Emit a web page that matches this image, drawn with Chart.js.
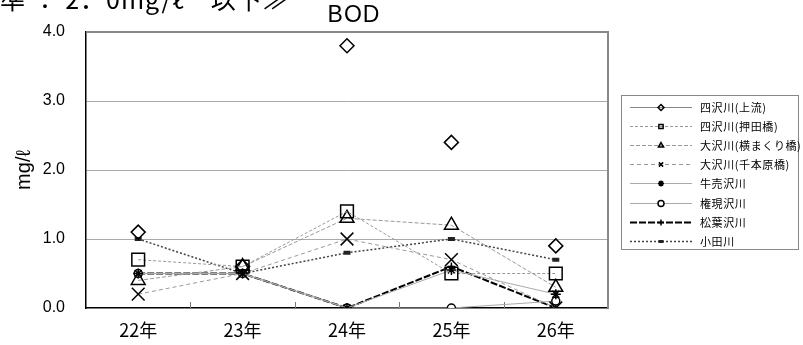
<!DOCTYPE html>
<html>
<head>
<meta charset="utf-8">
<script src="https://cdn.jsdelivr.net/npm/chart.js@4/dist/chart.umd.min.js"></script>
<style>
  html, body { margin: 0; padding: 0; background: #fff; overflow: hidden; }
  #wrap { position: relative; width: 803px; height: 345px; }
  #std { position: absolute; left: -26px; top: -14px; font: 25px "Noto Sans CJK JP"; line-height: 1; white-space: pre; color: #000; letter-spacing: 1px; }
  canvas { position: absolute; left: 0; top: 0; }
</style>
</head>
<body>
<div id="wrap">
  <canvas id="c" width="803" height="345"></canvas>
  <div id="std">基準 ： 2．0mg/ℓ　以下≫</div>
</div>
<script>
// Survey years
const years = ['22年', '23年', '24年', '25年', '26年'];

// BOD (mg/ℓ) per sampling point
const yonsawaJoryu    = [1.1, 0.6, 3.8, 2.4, 0.9];   // 四沢川(上流)
const yonsawaOshida   = [0.7, 0.6, 1.4, 0.5, 0.5];   // 四沢川(押田橋)
const osawaYokomakuri = [0.4, 0.6, 1.3, 1.2, 0.3];   // 大沢川(横まくり橋)
const osawaSenbonbara = [0.2, 0.5, 1.0, 0.7, 0.0];   // 大沢川(千本原橋)
const ushiurisawa     = [0.5, 0.5, 0.0, 0.55, 0.2];  // 牛売沢川
const gongensawa      = [0.5, 0.5, 0.0, 0.0, 0.1];   // 権現沢川
const matsubasawa     = [0.5, 0.5, 0.0, 0.6, 0.0];   // 松葉沢川
const odagawa         = [1.0, 0.5, 0.8, 1.0, 0.7];   // 小田川

// Y axis ticks
const yTicks = [0, 1, 2, 3, 4];

const JP = '"Noto Sans CJK JP", "Noto Sans", sans-serif';
const SANS = '"Liberation Sans", Arial, sans-serif';

function series(label, data, o) {
  return Object.assign({
    label, data,
    borderColor: '#999', borderWidth: 1, borderDash: [],
    pointBorderColor: '#000', pointBackgroundColor: 'rgba(0,0,0,0)',
    pointBorderWidth: 1.5, pointHoverRadius: 0, tension: 0, fill: false,
    legendRadius: 3
  }, o);
}

const datasets = [
  series('四沢川(上流)', yonsawaJoryu, { pointStyle: 'rectRot', pointRadius: 7, borderColor: '#888', showLine: false }),
  series('四沢川(押田橋)', yonsawaOshida, { pointStyle: 'rect', pointRadius: 9, borderDash: [3, 2] }),
  series('大沢川(横まくり橋)', osawaYokomakuri, { pointStyle: 'triangle', pointRadius: 8, borderDash: [4, 2] }),
  series('大沢川(千本原橋)', osawaSenbonbara, { pointStyle: 'crossRot', pointRadius: 9, borderDash: [4, 3] }),
  series('牛売沢川', ushiurisawa, { pointStyle: 'star', pointRadius: 5, borderColor: '#aaa' }),
  series('権現沢川', gongensawa, { pointStyle: 'circle', pointRadius: 4, borderColor: '#aaa', pointBackgroundColor: '#fff' }),
  series('松葉沢川', matsubasawa, { pointStyle: 'cross', pointRadius: 4, borderColor: '#000', borderWidth: 2, borderDash: [7, 2] }),
  series('小田川', odagawa, { pointStyle: 'line', pointRadius: 3.5, pointBorderWidth: 4, pointBorderColor: '#222', borderColor: '#444', borderWidth: 1.5, borderDash: [2, 2], legendBorderWidth: 3 })
];

// Frame, inner ticks, title and legend box
const decorations = {
  id: 'decorations',
  beforeDatasetsDraw(chart) {
    const { ctx, chartArea: a, scales: { x } } = chart;
    ctx.save();
    ctx.strokeStyle = '#888';
    ctx.lineWidth = 2;
    ctx.beginPath();
    ctx.moveTo(a.left, a.top);
    ctx.lineTo(a.right, a.top);
    ctx.lineTo(a.right, a.bottom);
    ctx.stroke();
    // category separators on the bottom axis, pointing inward
    ctx.strokeStyle = '#777';
    ctx.lineWidth = 1;
    for (let i = 0; i < years.length - 1; i++) {
      const px = Math.round((x.getPixelForTick(i) + x.getPixelForTick(i + 1)) / 2) + 0.5;
      ctx.beginPath();
      ctx.moveTo(px, a.bottom);
      ctx.lineTo(px, a.bottom - 6);
      ctx.stroke();
    }
    ctx.restore();
  },
  afterDraw(chart) {
    const { ctx } = chart;
    ctx.save();
    ctx.fillStyle = '#000';
    ctx.font = '23px ' + SANS;
    ctx.letterSpacing = '1px';
    ctx.textAlign = 'center';
    ctx.textBaseline = 'middle';
    ctx.fillText('BOD', 354, 16);
    ctx.restore();

    // legend
    ctx.save();
    const bx = 621.5, by = 95.5, bw = 177, bh = 154;
    ctx.fillStyle = '#fff';
    ctx.fillRect(bx, by, bw, bh);
    ctx.strokeStyle = '#888';
    ctx.lineWidth = 1;
    ctx.strokeRect(bx, by, bw, bh);
    chart.data.datasets.forEach((ds, i) => {
      const y = Math.round(107 + i * 19.1) + 0.5;
      ctx.save();
      ctx.strokeStyle = ds.borderColor;
      ctx.lineWidth = ds.borderWidth;
      ctx.setLineDash(ds.borderDash || []);
      ctx.beginPath();
      ctx.moveTo(630, y);
      ctx.lineTo(692, y);
      ctx.stroke();
      ctx.restore();
      ctx.save();
      ctx.strokeStyle = ds.pointBorderColor;
      ctx.fillStyle = ds.pointStyle === 'circle' ? '#fff' : 'rgba(0,0,0,0)';
      ctx.lineWidth = ds.legendBorderWidth || 1.5;
      if (Chart.helpers && Chart.helpers.drawPoint) {
        Chart.helpers.drawPoint(ctx, {
          pointStyle: ds.pointStyle, radius: ds.pointStyle === 'line' ? 2.5 : ds.legendRadius,
          rotation: 0, borderWidth: ctx.lineWidth
        }, 661, y);
      }
      ctx.restore();
      ctx.save();
      ctx.fillStyle = '#000';
      ctx.font = '11px ' + JP;
      ctx.letterSpacing = '0.6px';
      ctx.textAlign = 'left';
      ctx.textBaseline = 'middle';
      ctx.fillText(ds.label, 700, y);
      ctx.restore();
    });
    ctx.restore();
  }
};

new Chart(document.getElementById('c'), {
  type: 'line',
  data: { labels: years, datasets },
  options: {
    responsive: false,
    animation: false,
    events: [],
    layout: { padding: { top: 32, right: 195, left: 0, bottom: 0 } },
    plugins: { legend: { display: false }, tooltip: { enabled: false }, title: { display: false } },
    scales: {
      x: {
        offset: true,
        afterFit(s) { s.height = 37; },
        grid: { display: false, drawTicks: false },
        border: { display: true, color: '#000', width: 1.5 },
        ticks: { color: '#000', padding: 11, font: { family: JP, size: 18 } }
      },
      y: {
        min: yTicks[0], max: yTicks[yTicks.length - 1],
        afterFit(s) { s.width = 86; },
        afterBuildTicks(s) { s.ticks = yTicks.map(v => ({ value: v })); },
        grid: {
          drawTicks: false,
          color: c => (c.tick && c.tick.value > yTicks[0] && c.tick.value < yTicks[yTicks.length - 1]) ? '#aaa' : 'rgba(0,0,0,0)',
          lineWidth: 1
        },
        border: { display: true, color: '#000', width: 1.5 },
        ticks: {
          color: '#000', padding: 21,
          font: { family: SANS, size: 16 },
          callback: v => Number(v).toFixed(1)
        },
        title: {
          display: true, text: 'mg/ℓ', color: '#000',
          font: { family: SANS, size: 20 }, padding: { top: 12, bottom: 0 }
        }
      }
    }
  },
  plugins: [decorations]
});
</script>
</body>
</html>
